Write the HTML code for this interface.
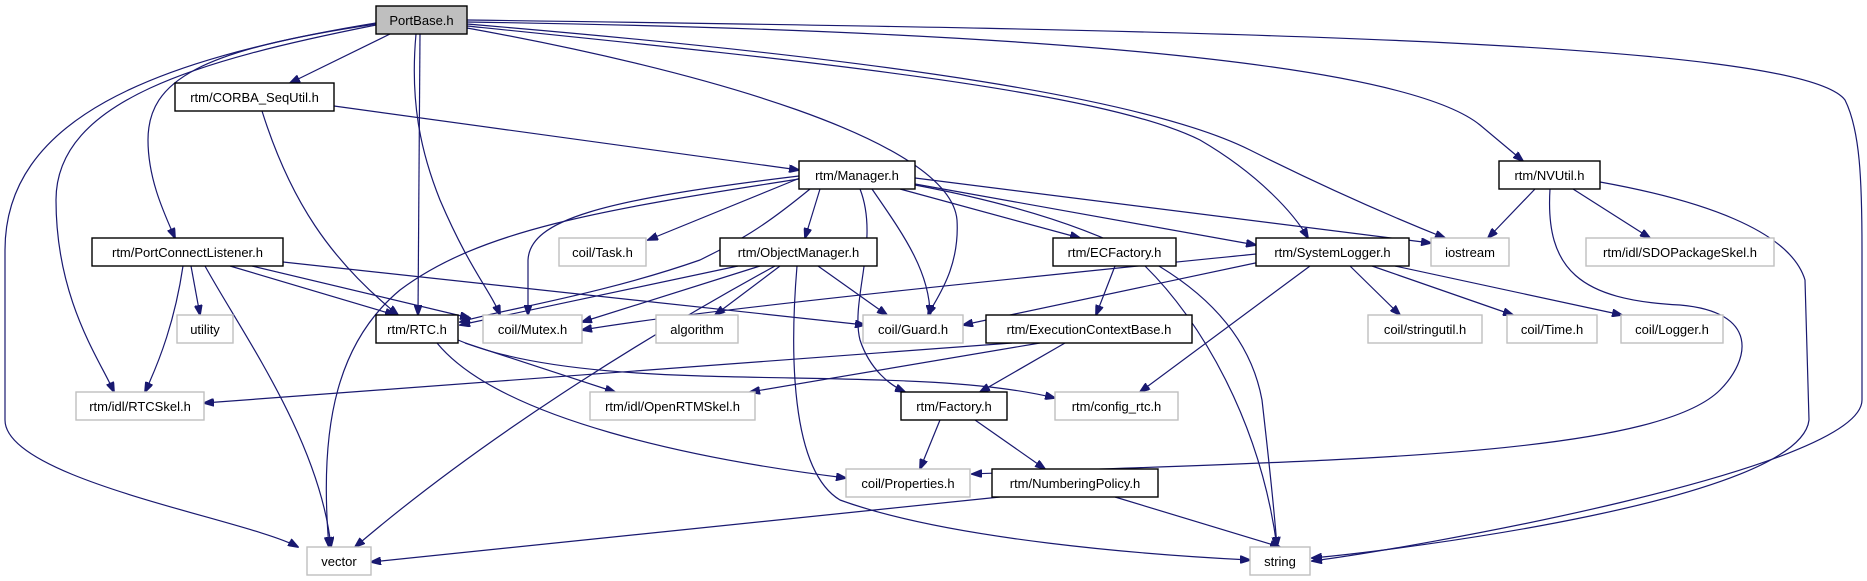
<!DOCTYPE html>
<html><head><meta charset="utf-8"><style>
html,body{margin:0;padding:0;background:#fff;}
svg{display:block;}
text{font-family:"Liberation Sans","DejaVu Sans",sans-serif;font-size:13px;fill:#000;}
.e{fill:none;stroke:#191970;stroke-width:1.2;marker-end:url(#a);}
.n{fill:#fff;stroke:#000;stroke-width:1.4;}
.g{fill:#fff;stroke:#bfbfbf;stroke-width:1.4;}
.r{fill:#bfbfbf;stroke:#000;stroke-width:1.4;}
</style></head><body>
<svg width="1867" height="581" viewBox="0 0 1867 581" xmlns="http://www.w3.org/2000/svg">
<defs><marker id="a" markerWidth="11" markerHeight="8" refX="10" refY="4" orient="auto" markerUnits="userSpaceOnUse"><path d="M0,0 L11,4 L0,8 z" fill="#191970" stroke="#191970"/></marker></defs>
<path class="e" d="M390,34 L290,83"/>
<path class="e" d="M376,24 C200,50 148,80 148,140 C148,180 165,215 175,238"/>
<path class="e" d="M376,25 C200,60 56,100 56,200 C56,300 100,360 114,392"/>
<path class="e" d="M376,23 C150,60 5,120 5,250 L5,420 C5,480 250,520 298,547"/>
<path class="e" d="M420,34 L418,315"/>
<path class="e" d="M416,34 C410,100 420,150 440,200 C470,270 490,290 500,315"/>
<path class="e" d="M467,28 C700,70 950,140 957,220 C960,270 935,300 928,315"/>
<path class="e" d="M467,26 C800,60 1100,90 1200,140 C1260,175 1295,215 1308,238"/>
<path class="e" d="M467,24 C900,60 1150,100 1250,150 C1330,190 1400,220 1445,238"/>
<path class="e" d="M467,22 C1000,30 1400,60 1480,125 L1523,161"/>
<path class="e" d="M467,20 C1200,30 1800,40 1845,100 C1860,130 1862,180 1862,250 L1862,400 C1862,470 1400,550 1312,561"/>
<path class="e" d="M334,106 L799,170"/>
<path class="e" d="M262,111 C290,200 330,260 398,315"/>
<path class="e" d="M183,266 C175,320 160,360 145,392"/>
<path class="e" d="M191,266 L200,315"/>
<path class="e" d="M205,266 C240,330 320,440 331,547"/>
<path class="e" d="M230,266 L395,315"/>
<path class="e" d="M252,266 L470,318"/>
<path class="e" d="M283,262 L865,325"/>
<path class="e" d="M800,178 L648,240"/>
<path class="e" d="M799,176 C600,200 530,220 528,260 L528,315"/>
<path class="e" d="M799,179 C600,210 480,230 400,290 C340,340 318,420 329,547"/>
<path class="e" d="M810,189 C760,230 740,240 700,260 C600,295 500,310 460,322"/>
<path class="e" d="M820,189 L805,238"/>
<path class="e" d="M860,189 C880,240 850,300 860,340 C870,370 890,385 905,392"/>
<path class="e" d="M872,189 C900,230 930,270 930,315"/>
<path class="e" d="M915,185 C1100,220 1240,280 1262,400 C1270,470 1275,520 1277,547"/>
<path class="e" d="M900,189 L1080,238"/>
<path class="e" d="M915,184 L1256,245"/>
<path class="e" d="M915,178 L1431,243"/>
<path class="e" d="M738,266 L460,325"/>
<path class="e" d="M760,266 L582,322"/>
<path class="e" d="M780,266 L715,315"/>
<path class="e" d="M775,266 C640,340 480,440 355,547"/>
<path class="e" d="M797,266 C790,350 790,470 840,500 C950,540 1150,555 1250,560"/>
<path class="e" d="M818,266 L887,315"/>
<path class="e" d="M1115,266 L1096,315"/>
<path class="e" d="M1145,266 C1200,320 1260,420 1277,547"/>
<path class="e" d="M1256,254 C1000,280 700,310 582,330"/>
<path class="e" d="M1260,262 L963,325"/>
<path class="e" d="M1310,266 L1140,392"/>
<path class="e" d="M1350,266 L1400,315"/>
<path class="e" d="M1372,266 L1513,315"/>
<path class="e" d="M1395,266 L1622,315"/>
<path class="e" d="M1535,189 L1488,238"/>
<path class="e" d="M1573,189 L1650,238"/>
<path class="e" d="M1550,189 C1545,270 1580,300 1680,305 C1760,312 1750,360 1720,390 C1650,460 1300,460 972,474"/>
<path class="e" d="M1600,182 C1700,200 1790,230 1805,280 L1809,420 C1800,500 1400,550 1312,558"/>
<path class="e" d="M1012,343 L204,403"/>
<path class="e" d="M465,343 L615,392"/>
<path class="e" d="M458,340 C600,400 900,360 1055,398"/>
<path class="e" d="M437,343 C500,420 700,460 846,478"/>
<path class="e" d="M1040,343 L750,392"/>
<path class="e" d="M1065,343 L980,392"/>
<path class="e" d="M940,420 L920,469"/>
<path class="e" d="M975,420 L1045,469"/>
<path class="e" d="M1000,497 L371,562"/>
<path class="e" d="M1115,497 L1280,547"/>
<g text-anchor="middle">
<rect class="r" x="376" y="6" width="91" height="28"/><text x="421.5" y="25">PortBase.h</text>
<rect class="n" x="175" y="83" width="159" height="28"/><text x="254.5" y="102">rtm/CORBA_SeqUtil.h</text>
<rect class="n" x="799" y="161" width="116" height="28"/><text x="857" y="180">rtm/Manager.h</text>
<rect class="n" x="1499" y="161" width="101" height="28"/><text x="1549.5" y="180">rtm/NVUtil.h</text>
<rect class="n" x="92" y="238" width="191" height="28"/><text x="187.5" y="257">rtm/PortConnectListener.h</text>
<rect class="g" x="559" y="238" width="87" height="28"/><text x="602.5" y="257">coil/Task.h</text>
<rect class="n" x="720" y="238" width="157" height="28"/><text x="798.5" y="257">rtm/ObjectManager.h</text>
<rect class="n" x="1053" y="238" width="123" height="28"/><text x="1114.5" y="257">rtm/ECFactory.h</text>
<rect class="n" x="1256" y="238" width="153" height="28"/><text x="1332.5" y="257">rtm/SystemLogger.h</text>
<rect class="g" x="1431" y="238" width="78" height="28"/><text x="1470" y="257">iostream</text>
<rect class="g" x="1586" y="238" width="188" height="28"/><text x="1680" y="257">rtm/idl/SDOPackageSkel.h</text>
<rect class="g" x="177" y="315" width="56" height="28"/><text x="205" y="334">utility</text>
<rect class="n" x="376" y="315" width="82" height="28"/><text x="417" y="334">rtm/RTC.h</text>
<rect class="g" x="483" y="315" width="99" height="28"/><text x="532.5" y="334">coil/Mutex.h</text>
<rect class="g" x="656" y="315" width="82" height="28"/><text x="697" y="334">algorithm</text>
<rect class="g" x="863" y="315" width="100" height="28"/><text x="913" y="334">coil/Guard.h</text>
<rect class="n" x="986" y="315" width="206" height="28"/><text x="1089" y="334">rtm/ExecutionContextBase.h</text>
<rect class="g" x="1368" y="315" width="114" height="28"/><text x="1425" y="334">coil/stringutil.h</text>
<rect class="g" x="1507" y="315" width="90" height="28"/><text x="1552" y="334">coil/Time.h</text>
<rect class="g" x="1621" y="315" width="102" height="28"/><text x="1672" y="334">coil/Logger.h</text>
<rect class="g" x="76" y="392" width="128" height="28"/><text x="140" y="411">rtm/idl/RTCSkel.h</text>
<rect class="g" x="590" y="392" width="165" height="28"/><text x="672.5" y="411">rtm/idl/OpenRTMSkel.h</text>
<rect class="n" x="901" y="392" width="106" height="28"/><text x="954" y="411">rtm/Factory.h</text>
<rect class="g" x="1055" y="392" width="123" height="28"/><text x="1116.5" y="411">rtm/config_rtc.h</text>
<rect class="g" x="846" y="469" width="124" height="28"/><text x="908" y="488">coil/Properties.h</text>
<rect class="n" x="992" y="469" width="166" height="28"/><text x="1075" y="488">rtm/NumberingPolicy.h</text>
<rect class="g" x="307" y="547" width="64" height="28"/><text x="339" y="566">vector</text>
<rect class="g" x="1250" y="547" width="60" height="28"/><text x="1280" y="566">string</text>
</g>
</svg>
</body></html>
